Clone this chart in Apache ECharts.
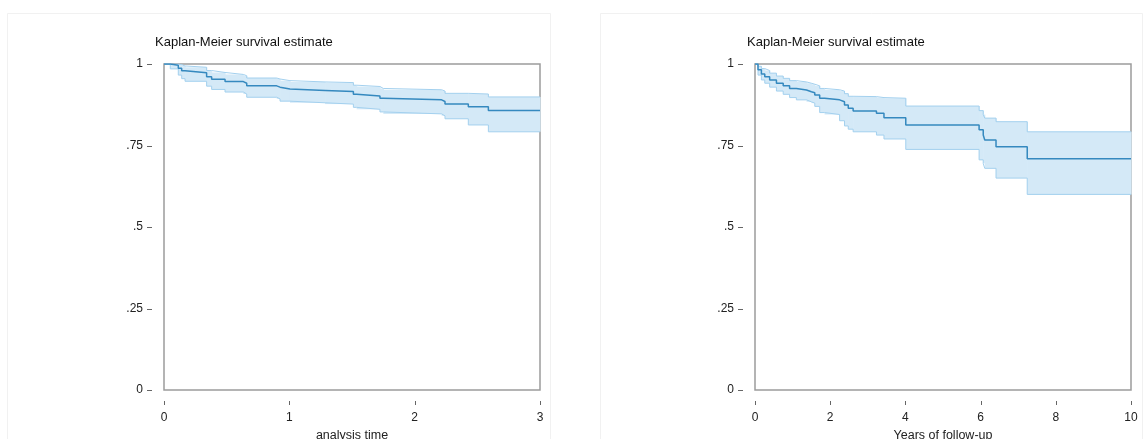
<!DOCTYPE html>
<html>
<head>
<meta charset="utf-8">
<script src="https://cdn.jsdelivr.net/npm/echarts@6/dist/echarts.min.js"></script>
<style>
  html, body { margin: 0; padding: 0; background: #ffffff; }
  #chart { width: 1144px; height: 439px; }
</style>
</head>
<body>
<div id="chart"></div>
<script>
// Kaplan-Meier estimate, first panel (time in analysis units)
const timeA  = [0, 0.05, 0.114, 0.141, 0.168, 0.340, 0.380, 0.487, 0.633, 0.660, 0.899, 0.926, 1.005, 1.285, 1.511, 1.537, 1.723, 1.750, 2.215, 2.242, 2.428, 2.588, 3];
const survA  = [1, 0.996, 0.987, 0.979, 0.973, 0.961, 0.953, 0.946, 0.941, 0.933, 0.929, 0.923, 0.919, 0.916, 0.907, 0.902, 0.895, 0.890, 0.885, 0.877, 0.869, 0.857, 0.857];
const upperA = [1, 1.000, 0.998, 0.994, 0.990, 0.980, 0.974, 0.968, 0.964, 0.957, 0.954, 0.949, 0.945, 0.943, 0.935, 0.931, 0.925, 0.921, 0.917, 0.910, 0.908, 0.899, 0.899];
const lowerA = [1, 0.985, 0.966, 0.955, 0.947, 0.932, 0.922, 0.914, 0.908, 0.898, 0.893, 0.886, 0.881, 0.877, 0.867, 0.861, 0.853, 0.847, 0.841, 0.832, 0.813, 0.792, 0.792];

// Kaplan-Meier estimate, second panel (years of follow-up)
const timeB  = [0, 0.08, 0.17, 0.26, 0.39, 0.57, 0.75, 0.92, 1.10, 1.37, 1.50, 1.59, 1.72, 1.85, 2.25, 2.38, 2.48, 2.61, 3.23, 3.43, 4.01, 5.96, 6.07, 6.11, 6.41, 7.24, 10];
const survB  = [1, 0.982, 0.969, 0.961, 0.951, 0.941, 0.933, 0.925, 0.920, 0.915, 0.912, 0.905, 0.895, 0.890, 0.884, 0.874, 0.864, 0.856, 0.849, 0.835, 0.813, 0.798, 0.782, 0.767, 0.746, 0.709, 0.709];
const upperB = [1, 0.993, 0.986, 0.980, 0.972, 0.963, 0.956, 0.949, 0.945, 0.941, 0.938, 0.933, 0.925, 0.921, 0.917, 0.909, 0.901, 0.900, 0.897, 0.895, 0.871, 0.857, 0.845, 0.834, 0.823, 0.792, 0.792];
const lowerB = [1, 0.966, 0.951, 0.941, 0.929, 0.917, 0.907, 0.897, 0.890, 0.884, 0.880, 0.870, 0.851, 0.845, 0.826, 0.810, 0.800, 0.792, 0.782, 0.770, 0.738, 0.706, 0.695, 0.680, 0.650, 0.600, 0.600];

// Axis ticks and labels
const yTickValues = [0, 0.25, 0.5, 0.75, 1];
const yTickLabels = ['0', '.25', '.5', '.75', '1'];
const xTicksA = [0, 1, 2, 3];
const xTicksB = [0, 2, 4, 6, 8, 10];
const titleText = 'Kaplan-Meier survival estimate';
const xNameA = 'analysis time';
const xNameB = 'Years of follow-up';

const FONT = '"Liberation Sans", Arial, Helvetica, sans-serif';
const LINE = '#3589bf';
const BAND = '#d4e9f7';
const BAND_EDGE = '#a3d0ee';
const TICK = '#666666';

const pairs = (xs, ys) => xs.map((x, i) => [x, ys[i]]);

// One rectangle per step of the confidence band: [t_i, t_next, lower_i, upper_i]
const bandSteps = (t, lo, up) => t.slice(0, -1).map((x, i) => [x, t[i + 1], lo[i], up[i]]);

function renderBandStep(params, api) {
  const topLeft = api.coord([api.value(0), api.value(3)]);
  const bottomRight = api.coord([api.value(1), api.value(2)]);
  return {
    type: 'rect',
    shape: {
      x: topLeft[0],
      y: topLeft[1],
      width: bottomRight[0] - topLeft[0] + 0.6,
      height: bottomRight[1] - topLeft[1]
    },
    style: { fill: BAND }
  };
}

// Tick marks sit a little outside the plot box, detached from it
function renderYTick(params, api) {
  const p = api.coord([api.value(0), api.value(1)]);
  const y = Math.round(p[1]) + 0.5;
  return { type: 'line', shape: { x1: p[0] - 17, y1: y, x2: p[0] - 12, y2: y }, style: { stroke: TICK, lineWidth: 1 } };
}
function renderXTick(params, api) {
  const p = api.coord([api.value(0), api.value(1)]);
  const x = Math.round(p[0]) + 0.5;
  return { type: 'line', shape: { x1: x, y1: p[1] + 11, x2: x, y2: p[1] + 15 }, style: { stroke: TICK, lineWidth: 1 } };
}

function kmSeries(idx, t, s, lo, up, xTicks) {
  const common = { xAxisIndex: idx, yAxisIndex: idx, silent: true, animation: false };
  const stepLine = { type: 'line', step: 'end', symbol: 'none' };
  return [
    Object.assign({}, common, {
      type: 'custom', renderItem: renderBandStep, data: bandSteps(t, lo, up),
      encode: { x: [0, 1], y: [2, 3] }, z: 1
    }),
    Object.assign({}, common, stepLine, { data: pairs(t, up), lineStyle: { color: BAND_EDGE, width: 1 }, z: 2 }),
    Object.assign({}, common, stepLine, { data: pairs(t, lo), lineStyle: { color: BAND_EDGE, width: 1 }, z: 2 }),
    Object.assign({}, common, stepLine, { data: pairs(t, s), lineStyle: { color: LINE, width: 1.5 }, z: 3 }),
    Object.assign({}, common, {
      type: 'custom', renderItem: renderYTick, clip: false,
      data: yTickValues.map(v => [0, v]), encode: { x: 0, y: 1 }, z: 4
    }),
    Object.assign({}, common, {
      type: 'custom', renderItem: renderXTick, clip: false,
      data: xTicks.map(v => [v, 0]), encode: { x: 0, y: 1 }, z: 4
    })
  ];
}

function xAxis(idx, ticks, name) {
  return {
    gridIndex: idx, type: 'value', min: ticks[0], max: ticks[ticks.length - 1], interval: ticks[1] - ticks[0],
    axisLine: { show: false },
    axisTick: { show: false },
    axisLabel: { margin: 22, fontSize: 12, color: '#222', fontFamily: FONT },
    splitLine: { show: false },
    name: name, nameLocation: 'middle', nameGap: 37,
    nameTextStyle: { fontSize: 12.5, color: '#222', fontFamily: FONT }
  };
}

function yAxis(idx) {
  return {
    gridIndex: idx, type: 'value', min: 0, max: 1, interval: 0.25,
    axisLine: { show: false },
    axisTick: { show: false },
    axisLabel: {
      margin: 21, fontSize: 12, color: '#222', fontFamily: FONT,
      formatter: v => yTickLabels[yTickValues.indexOf(v)]
    },
    splitLine: { show: false }
  };
}

const gridStyle = {
  show: true, borderColor: '#9c9c9c', borderWidth: 1.5, backgroundColor: '#ffffff',
  containLabel: false, outerBoundsMode: 'none'
};

const option = {
  backgroundColor: '#ffffff',
  animation: false,
  graphic: [
    { type: 'rect', shape: { x: 7.5, y: 13.5, width: 543, height: 440 }, style: { fill: 'none', stroke: '#f1f1f1', lineWidth: 1 }, z: -10, silent: true },
    { type: 'rect', shape: { x: 600.5, y: 13.5, width: 542, height: 440 }, style: { fill: 'none', stroke: '#f1f1f1', lineWidth: 1 }, z: -10, silent: true }
  ],
  title: [
    { text: titleText, left: 155, top: 36, padding: 0, textStyle: { fontSize: 13, fontWeight: 'normal', color: '#111', fontFamily: FONT } },
    { text: titleText, left: 747, top: 36, padding: 0, textStyle: { fontSize: 13, fontWeight: 'normal', color: '#111', fontFamily: FONT } }
  ],
  grid: [
    Object.assign({ left: 164, top: 64, width: 376, height: 326 }, gridStyle),
    Object.assign({ left: 755, top: 64, width: 376, height: 326 }, gridStyle)
  ],
  xAxis: [xAxis(0, xTicksA, xNameA), xAxis(1, xTicksB, xNameB)],
  yAxis: [yAxis(0), yAxis(1)],
  series: [].concat(
    kmSeries(0, timeA, survA, lowerA, upperA, xTicksA),
    kmSeries(1, timeB, survB, lowerB, upperB, xTicksB)
  )
};

const chart = echarts.init(document.getElementById('chart'), null, { renderer: 'canvas' });
chart.setOption(option);
</script>
</body>
</html>
